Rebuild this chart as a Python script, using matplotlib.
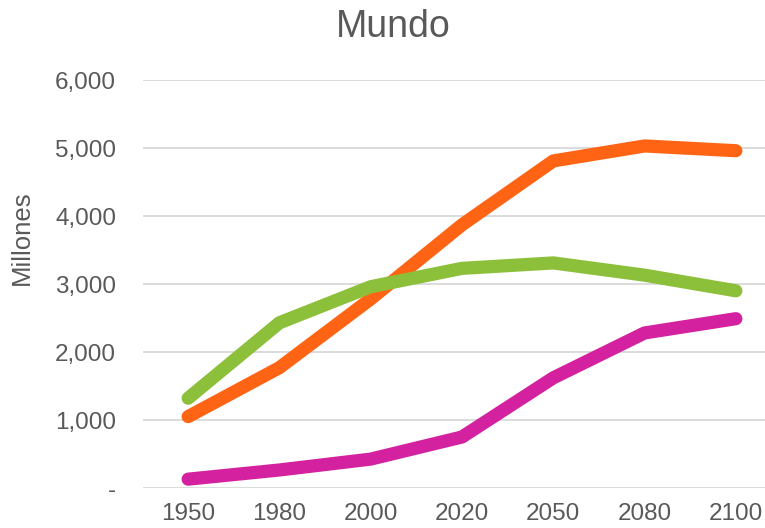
import matplotlib.pyplot as plt
from matplotlib.ticker import FuncFormatter

plt.rcParams['font.family'] = ['Liberation Sans', 'DejaVu Sans']

years = ['1950', '1980', '2000', '2020', '2050', '2080', '2100']
orange = [1050, 1770, 2780, 3870, 4810, 5030, 4960]
green = [1320, 2430, 2960, 3230, 3310, 3130, 2900]
magenta = [130, 265, 425, 750, 1620, 2280, 2490]

text_col = '#595959'

fig = plt.figure(figsize=(7.65, 5.28), dpi=100)
ax = fig.add_axes([142.5 / 765, 40 / 528, 639 / 765, 408 / 528])

x = range(len(years))
ax.plot(x, orange, color='#FF6414', lw=9.5, solid_capstyle='round', solid_joinstyle='round', zorder=3)
ax.plot(x, green, color='#8CBF3A', lw=9.5, solid_capstyle='round', solid_joinstyle='round', zorder=4)
ax.plot(x, magenta, color='#D4219F', lw=9.5, solid_capstyle='round', solid_joinstyle='round', zorder=3)

ax.set_xlim(-0.5, len(years) - 0.5)
ax.set_ylim(0, 6000)
ax.set_yticks(range(0, 6001, 1000))
ax.yaxis.set_major_formatter(FuncFormatter(lambda v, p: '-' if v == 0 else f'{int(v):,}'))
ax.set_xticks(list(x))
ax.set_xticklabels(years)

ax.grid(axis='y', color='#D9D9D9', lw=1.3)
ax.set_axisbelow(True)
for s in ax.spines.values():
    s.set_visible(False)
ax.tick_params(length=0, labelsize=17.5, colors=text_col)
ax.tick_params(axis='y', pad=19)
ax.tick_params(axis='x', pad=11)

fig.text(22 / 765, 1 - 238 / 528, 'Millones', rotation=90, ha='center', va='center',
         fontsize=18.5, color=text_col)
fig.text(393 / 765, 1 - 27 / 528, 'Mundo', ha='center', va='center', fontsize=27, color=text_col)

fig.savefig('out.png', dpi=100)
